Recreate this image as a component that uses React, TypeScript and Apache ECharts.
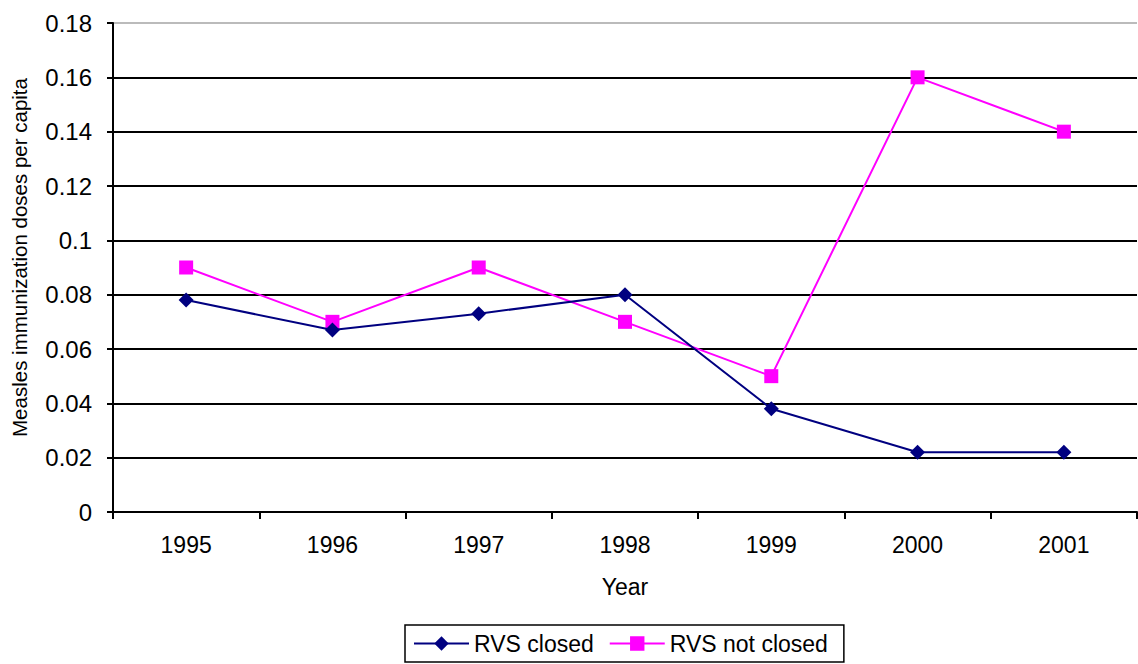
import React, { useEffect, useRef } from "react";
import * as echarts from "echarts";

const years = ["1995", "1996", "1997", "1998", "1999", "2000", "2001"];
const rvsClosed = [0.078, 0.067, 0.073, 0.08, 0.038, 0.022, 0.022];
const rvsNotClosed = [0.09, 0.07, 0.09, 0.07, 0.05, 0.16, 0.14];

const FONT = "Arial, 'Liberation Sans', sans-serif";

export default function App() {
  const ref = useRef<HTMLDivElement>(null);
  useEffect(() => {
    if (!ref.current) return;
    const chart = echarts.init(ref.current, undefined, { renderer: "svg" });
    chart.setOption({
      animation: false,
      backgroundColor: "#ffffff",
      textStyle: { fontFamily: FONT },
      grid: { left: 113, right: 1, top: 23, bottom: 152, outerBoundsMode: "none", containLabel: false },
      legend: {
        left: 405,
        top: 625,
        itemWidth: 55,
        itemHeight: 18,
        itemGap: 15,
        borderColor: "#000",
        borderWidth: 1.5,
        borderRadius: 0,
        padding: [7, 16, 7, 8],
        textStyle: { fontSize: 23, color: "#000", fontFamily: FONT },
        data: ["RVS closed", "RVS not closed"],
      },
      xAxis: {
        type: "category",
        data: years,
        boundaryGap: true,
        name: "Year",
        nameLocation: "middle",
        nameGap: 63,
        nameTextStyle: { fontSize: 23, color: "#000", fontFamily: FONT },
        axisLine: { lineStyle: { color: "#000", width: 2 } },
        axisTick: { show: true, alignWithLabel: false, length: 7, lineStyle: { color: "#000", width: 2 } },
        axisLabel: { fontSize: 23, color: "#000", margin: 21, fontFamily: FONT },
        splitLine: { show: false },
      },
      yAxis: {
        type: "value",
        min: 0,
        max: 0.18,
        interval: 0.02,
        name: "Measles immunization doses per capita",
        nameLocation: "middle",
        nameGap: 83,
        nameRotate: 90,
        nameTextStyle: { fontSize: 20.5, color: "#000", fontFamily: FONT, padding: [0, 0, 0, 20] },
        axisLine: { show: true, lineStyle: { color: "#000", width: 2 } },
        axisTick: { show: true, length: 6, lineStyle: { color: "#000", width: 2 } },
        axisLabel: {
          fontSize: 24,
          color: "#000",
          margin: 21,
          fontFamily: FONT,
          formatter: (v: number) => (v === 0 ? "0" : String(parseFloat(v.toFixed(2)))),
        },
        splitLine: {
          show: true,
          lineStyle: { color: ["#000", "#000", "#000", "#000", "#000", "#000", "#000", "#000", "#000", "#bbb"], width: 2 },
        },
      },
      series: [
        {
          name: "RVS closed",
          type: "line",
          data: rvsClosed,
          symbol: "diamond",
          symbolSize: 15,
          itemStyle: { color: "#000080" },
          lineStyle: { color: "#000080", width: 2 },
          z: 3,
        },
        {
          name: "RVS not closed",
          type: "line",
          data: rvsNotClosed,
          symbol: "rect",
          symbolSize: 14,
          itemStyle: { color: "#ff00ff" },
          lineStyle: { color: "#ff00ff", width: 2 },
          z: 2,
        },
      ],
    });
    return () => chart.dispose();
  }, []);
  return <div ref={ref} style={{ width: 1138, height: 664, position: "absolute", left: 0, top: 0 }} />;
}
